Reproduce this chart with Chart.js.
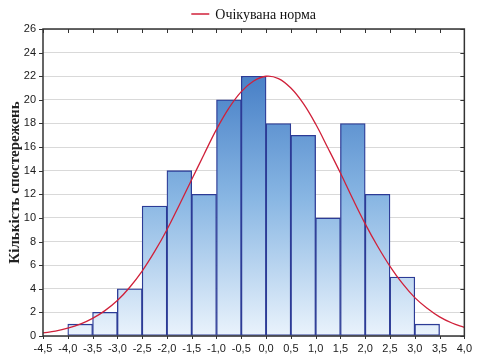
<!DOCTYPE html>
<html>
<head>
<meta charset="utf-8">
<script src="https://cdn.jsdelivr.net/npm/chart.js@4"></script>
<style>
  html, body { margin: 0; padding: 0; background: #fff; }
  #wrap { width: 478px; height: 358px; }
</style>
</head>
<body>
<div id="wrap"><canvas id="myChart" width="478" height="358"></canvas></div>
<script>
// bin centres (width 0.5) and counts
const binCenters = [-3.75, -3.25, -2.75, -2.25, -1.75, -1.25, -0.75, -0.25, 0.25, 0.75, 1.25, 1.75, 2.25, 2.75, 3.25]
const counts = [1, 2, 4, 11, 14, 12, 20, 22, 18, 17, 10, 18, 12, 5, 1]

// expected normal curve
const curveX = [-4.5, -4.25, -4.0, -3.75, -3.5, -3.25, -3.0, -2.75, -2.5, -2.25, -2.0, -1.75, -1.5, -1.25, -1.0, -0.75, -0.5, -0.25,
  0, 0.25, 0.5, 0.75, 1.0, 1.25, 1.5, 1.75, 2.0, 2.25, 2.5, 2.75, 3.0, 3.25, 3.5, 3.75, 4.0]
const curveY = [0.26, 0.42, 0.66, 1.0, 1.49, 2.15, 3.0, 4.13, 5.5, 7.14, 9.0, 11.1, 13.25, 15.4, 17.5, 19.3, 20.7, 21.6,
  22.0, 21.8, 21.0, 19.7, 17.95, 15.9, 13.8, 11.6, 9.5, 7.6, 5.9, 4.45, 3.25, 2.35, 1.62, 1.1, 0.73]

const xTicks = [-4.5, -4.0, -3.5, -3.0, -2.5, -2.0, -1.5, -1.0, -0.5, 0.0, 0.5, 1.0, 1.5, 2.0, 2.5, 3.0, 3.5, 4.0]
const yMax = 26
const legendLabel = 'Очікувана норма'
const yTitle = 'Кількість спостережень'

const fmt = v => (Math.abs(v) < 1e-9 ? 0 : v).toFixed(1).replace('.', ',')

function barGradient(context) {
  const area = context.chart.chartArea
  if (!area) return '#7fb1e1'
  const g = context.chart.ctx.createLinearGradient(0, area.top, 0, area.bottom)
  g.addColorStop(0, '#3c72c0')
  g.addColorStop(0.2, '#4f86ca')
  g.addColorStop(0.55, '#88b6e3')
  g.addColorStop(1, '#eaf3fc')
  return g
}

// frame, inner ticks and legend
const framePlugin = {
  id: 'frame',
  afterDraw(chart) {
    const ctx = chart.ctx
    const a = chart.chartArea
    const xs = chart.scales.x
    const ys = chart.scales.y
    ctx.save()
    ctx.strokeStyle = '#333'
    ctx.lineWidth = 1.5
    ctx.strokeRect(a.left, a.top, a.right - a.left, a.bottom - a.top)
    ctx.lineWidth = 1
    ctx.beginPath()
    xs.ticks.forEach(t => {
      const px = Math.round(xs.getPixelForValue(t.value)) + 0.5
      ctx.moveTo(px, a.top); ctx.lineTo(px, a.top + 4)
      ctx.moveTo(px, a.bottom); ctx.lineTo(px, a.bottom + 3)
    })
    ys.ticks.forEach(t => {
      const py = Math.round(ys.getPixelForValue(t.value)) + 0.5
      ctx.moveTo(a.right, py); ctx.lineTo(a.right - 4, py)
      ctx.moveTo(a.left, py); ctx.lineTo(a.left - 4, py)
    })
    ctx.stroke()

    // legend
    ctx.font = '14px "Liberation Serif"'
    const tw = ctx.measureText(legendLabel).width
    const total = 18 + 6 + tw
    const cx = (a.left + a.right) / 2
    const x0 = cx - total / 2
    const y0 = 14
    ctx.strokeStyle = '#d0213a'
    ctx.lineWidth = 1.5
    ctx.beginPath()
    ctx.moveTo(x0, y0); ctx.lineTo(x0 + 18, y0)
    ctx.stroke()
    ctx.fillStyle = '#111'
    ctx.textBaseline = 'middle'
    ctx.fillText(legendLabel, x0 + 24, y0 + 1)
    ctx.restore()
  }
}

const data = {
  datasets: [
    {
      type: 'line',
      label: legendLabel,
      data: curveX.map((x, i) => ({ x, y: curveY[i] })),
      borderColor: '#d0213a',
      borderWidth: 1.3,
      pointRadius: 0,
      tension: 0.4,
      fill: false,
      order: 0
    },
    {
      type: 'bar',
      label: 'counts',
      data: binCenters.map((x, i) => ({ x, y: counts[i] })),
      backgroundColor: barGradient,
      borderColor: '#2c3b96',
      borderWidth: 1.3,
      borderSkipped: false,
      barPercentage: 1,
      categoryPercentage: 1,
      order: 1
    }
  ]
}

const config = {
  data: data,
  plugins: [framePlugin],
  options: {
    responsive: false,
    animation: false,
    layout: { padding: { top: 29, right: 12, left: 0, bottom: 0 } },
    plugins: {
      legend: { display: false },
      tooltip: { enabled: false }
    },
    scales: {
      x: {
        type: 'linear',
        offset: false,
        min: -4.5,
        max: 4.0,
        afterBuildTicks: s => { s.ticks = xTicks.map(v => ({ value: v })) },
        afterFit: s => { s.height = 22 },
        grid: { display: false, drawTicks: false, offset: false },
        border: { display: false },
        ticks: {
          padding: 6,
          maxRotation: 0,
          autoSkip: false,
          color: '#1a1a1a',
          font: { family: '"Liberation Sans"', size: 11 },
          callback: v => fmt(v)
        }
      },
      y: {
        min: 0,
        max: yMax,
        afterFit: s => { s.width = 43 },
        grid: { color: '#d9d9d9', lineWidth: 1, drawTicks: false },
        border: { display: false },
        ticks: {
          stepSize: 2,
          padding: 7,
          color: '#1a1a1a',
          font: { family: '"Liberation Sans"', size: 11 }
        },
        title: {
          display: true,
          text: yTitle,
          color: '#222',
          padding: { top: 6, bottom: 0 },
          font: { family: '"Liberation Serif"', size: 15, weight: 'bold' }
        }
      }
    }
  }
}

const myChart = new Chart(document.getElementById('myChart').getContext('2d'), config)
</script>
</body>
</html>
